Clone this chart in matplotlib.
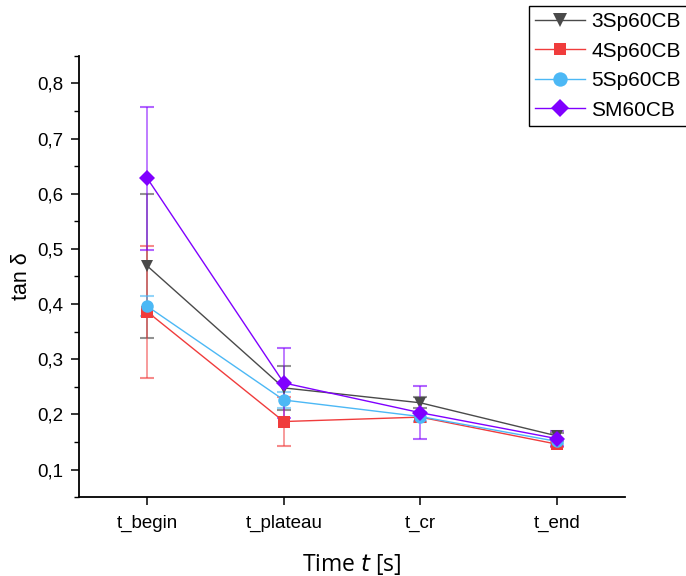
import matplotlib
matplotlib.use("Agg")
import matplotlib.pyplot as plt
from matplotlib.ticker import FuncFormatter, MultipleLocator

plt.rcParams['font.family'] = ['Liberation Sans', 'DejaVu Sans']

categories = ["t_begin", "t_plateau", "t_cr", "t_end"]
series_names = ["3Sp60CB", "4Sp60CB", "5Sp60CB", "SM60CB"]

tan_3sp = [0.469, 0.248, 0.221, 0.161]
err_3sp = [0.131, 0.040, 0.010, 0.006]
tan_4sp = [0.386, 0.187, 0.195, 0.146]
err_4sp = [0.120, 0.045, 0.008, 0.005]
tan_5sp = [0.396, 0.226, 0.196, 0.151]
err_5sp = [0.018, 0.015, 0.008, 0.005]
tan_sm = [0.628, 0.257, 0.203, 0.156]
err_sm = [0.130, 0.063, 0.048, 0.013]

values = [tan_3sp, tan_4sp, tan_5sp, tan_sm]
errors = [err_3sp, err_4sp, err_5sp, err_sm]
line_colors = ["#4a4a4a", "#f03c3c", "#4cb8f5", "#8000ff"]
markers = ["v", "s", "o", "D"]
marker_sizes = [9, 8, 9, 8]

fig = plt.figure(figsize=(6.86, 5.76), dpi=100)
ax = fig.add_axes([0.1152, 0.137, 0.796, 0.766])

x = list(range(1, len(categories) + 1))
handles = []
for name, y, e, c, m, ms in zip(series_names, values, errors, line_colors,
                                markers, marker_sizes):
    ax.errorbar(x, y, yerr=e, fmt="none", ecolor=c, alpha=0.6,
                elinewidth=1.2, capsize=5, capthick=1.5, zorder=2)
    h, = ax.plot(x, y, color=c, lw=1.0, marker=m, ms=ms,
                 markeredgewidth=0, label=name, zorder=3)
    handles.append(h)

ax.set_xlim(0.5, 4.5)
ax.set_ylim(0.05, 0.85)
ax.set_xticks(x)
ax.set_xticklabels(categories)
ax.yaxis.set_major_locator(MultipleLocator(0.1))
ax.yaxis.set_minor_locator(MultipleLocator(0.05))
ax.yaxis.set_major_formatter(
    FuncFormatter(lambda v, p: f"{v:.1f}".replace(".", ",")))

for side in ("top", "right"):
    ax.spines[side].set_visible(False)
for side in ("left", "bottom"):
    ax.spines[side].set_linewidth(1.3)

ax.tick_params(axis="both", which="major", direction="out", length=6,
               width=1.1, labelsize=13.5)
ax.tick_params(axis="y", which="major", pad=5)
ax.tick_params(axis="x", which="major", pad=7)
ax.tick_params(axis="y", which="minor", direction="out", length=3.5, width=1.0)
ax.tick_params(axis="x", which="minor", bottom=False)

ax.set_ylabel("tan δ", fontsize=15.5, labelpad=4)
ax.set_xlabel("Time $\\mathit{t}$ [s]", fontsize=16.5, labelpad=14,
              family=["Open Sans", "DejaVu Sans"])

leg = fig.legend(handles=handles, loc="upper left",
                 bbox_to_anchor=(529 / 686, 1 - 6 / 576),
                 bbox_transform=fig.transFigure, fontsize=15,
                 frameon=True, fancybox=False, edgecolor="black",
                 framealpha=1, borderpad=0.3, labelspacing=0.5,
                 handlelength=2.4, handletextpad=0.3, borderaxespad=0,
                 markerscale=1.15)
leg.get_frame().set_linewidth(1.0)

fig.savefig("out.png", dpi=100)
